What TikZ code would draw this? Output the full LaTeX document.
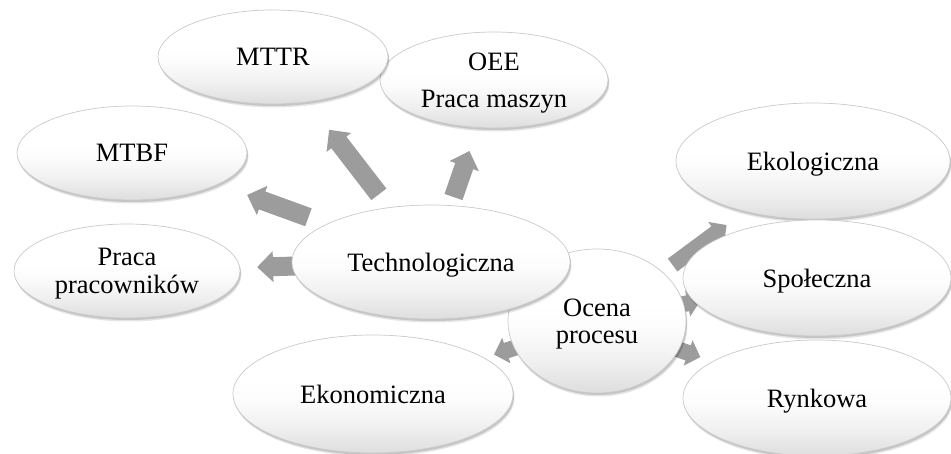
\documentclass[tikz,border=0pt]{standalone}
\usepackage{fontspec}
\setmainfont{Liberation Serif}
\usetikzlibrary{shapes.geometric,calc,arrows.meta}
\pgfdeclarelayer{background}
\pgfsetlayers{background,main}
\definecolor{arrowgray}{HTML}{9C9C9C}
\definecolor{rimgray}{HTML}{CACACA}
% white upper part, soft grey towards the bottom of each ellipse
\pgfdeclareverticalshading{bubbleshade}{100bp}{%
  color(0bp)=(black!13); color(25bp)=(black!13); color(36bp)=(black!6);
  color(48bp)=(black!1); color(56bp)=(white); color(100bp)=(white)}
\tikzset{
  bubble/.style={ellipse, inner sep=0pt, align=center, draw=rimgray, line width=0.7pt,
    shading=bubbleshade, text depth=0pt,
    preaction={fill=black, opacity=0.10, transform canvas={shift={(1.5pt,-3.5pt)}}},
    preaction={fill=black, opacity=0.14, transform canvas={shift={(1pt,-2pt)}}},
    font=\fontsize{26.5}{27.5}\selectfont},
  flow/.style={draw=arrowgray, line width=19pt, -{Triangle[width=30pt,length=16pt]}},
  smallflow/.style={draw=arrowgray, line width=16pt, -{Triangle[width=26pt,length=13pt]}},
}
\begin{document}
\begin{tikzpicture}[x=1pt, y=-1pt]
\clip (0,0) rectangle (951,454);

% outer assessment areas
\node[bubble, minimum width=274pt, minimum height=116pt] (ekol) at (813,161) {Ekologiczna};
\node[bubble, minimum width=268pt, minimum height=116pt] (spol) at (817,278) {Społeczna};
\node[bubble, minimum width=268pt, minimum height=116pt] (rynk) at (817,398) {Rynkowa};
\node[bubble, minimum width=280pt, minimum height=118pt] (ekon) at (373,394) {Ekonomiczna};
\node[bubble, minimum width=178pt, minimum height=144pt] (ocena) at (597,321) {Ocena\\procesu};

% technological indicators
\node[bubble, minimum width=226pt, minimum height=94pt] (praca) at (127,271) {Praca\\pracowników};
\node[bubble, minimum width=230pt, minimum height=94pt] (mtbf) at (132,153) {MTBF};
\node[bubble, minimum width=228pt, minimum height=96pt] (oee) at (494,80) {OEE\\[10pt]Praca maszyn};
\node[bubble, minimum width=230pt, minimum height=94pt] (mttr) at (273,57) {MTTR};
\node[bubble, minimum width=278pt, minimum height=114pt] (tech) at (431,262) {Technologiczna};

% block arrows behind the ellipses
\begin{pgfonlayer}{background}
  \draw[flow] ($(tech)!0.33!(mttr)$) -- ($(tech)!0.645!(mttr)$);
  \draw[flow] ($(tech)!0.357!(oee)$) -- ($(tech)!0.61!(oee)$);
  \draw[flow] ($(tech)!0.41!(mtbf)$) -- ($(tech)!0.615!(mtbf)$);
  \draw[flow] ($(tech)!0.44!(praca)$) -- ($(tech)!0.572!(praca)$);
  \draw[smallflow] ($(ocena)!0.35!(ekol)$) -- ($(ocena)!0.6!(ekol)$);
  \draw[smallflow] ($(ocena)!0.3!(spol)$) -- ($(ocena)!0.47!(spol)$);
  \draw[smallflow] ($(ocena)!0.3!(rynk)$) -- ($(ocena)!0.47!(rynk)$);
  \draw[smallflow] ($(ocena)!0.3!(ekon)$) -- ($(ocena)!0.46!(ekon)$);
\end{pgfonlayer}
\end{tikzpicture}
\end{document}
